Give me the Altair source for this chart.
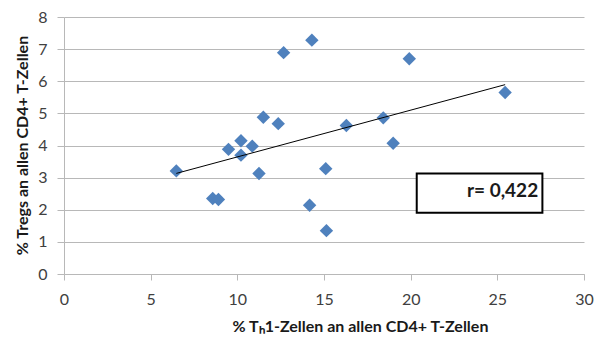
import altair as alt
import pandas as pd

# Th1 share vs. Treg share, both in % of all CD4+ T cells
th1_pct = [6.48, 8.58, 8.91, 9.49, 10.21, 10.21, 10.86, 11.25, 11.50, 12.36,
           12.67, 14.17, 14.30, 15.10, 15.14, 16.29, 18.42, 18.99, 19.92, 25.45]
treg_pct = [3.21, 2.35, 2.32, 3.88, 4.15, 3.70, 3.98, 3.13, 4.88, 4.68,
            6.89, 2.14, 7.28, 3.28, 1.35, 4.62, 4.86, 4.07, 6.70, 5.65]

x_ticks = [0, 5, 10, 15, 20, 25, 30]
y_ticks = [0, 1, 2, 3, 4, 5, 6, 7, 8]

r_label = "r= 0,422"
# annotation box extent in data units
box = {"x": [20.35], "x2": [27.6], "y": [3.13], "y2": [1.91]}

df = pd.DataFrame({"th1": th1_pct, "treg": treg_pct})
box_df = pd.DataFrame(box)
label_df = pd.DataFrame({"x": [25.3], "y": [2.57], "t": [r_label]})

FONT = "Lato"
GRID = "#b8b8b8"

x_scale = alt.Scale(domain=[0, 30], nice=False, zero=False)
y_scale = alt.Scale(domain=[0, 8], nice=False, zero=False)

x_axis = alt.Axis(
    values=x_ticks, tickCount=len(x_ticks), grid=False, domainColor=GRID,
    tickColor=GRID, tickSize=6,
    labelFont=FONT, labelFontSize=16, labelColor="#404040", labelPadding=11,
    labelFlush=False, labelOverlap=False,
    title="% Tₕ1-Zellen an allen CD4+ T-Zellen", titleFont=FONT, titleFontSize=16,
    titleFontWeight="bold", titleColor="#1a1a1a", titleX=296, titleY=52,
    titleBaseline="middle", titleAlign="center",
)
y_axis = alt.Axis(
    values=y_ticks, tickCount=len(y_ticks), grid=True, gridColor=GRID,
    domainColor=GRID, tickColor=GRID, tickSize=7, labelFont=FONT,
    labelFontSize=16, labelColor="#404040", labelPadding=10, labelFlush=False,
    labelOverlap=False,
    title="% Tregs an allen CD4+ T-Zellen", titleFont=FONT,
    titleFontSize=16, titleFontWeight="bold", titleColor="#1a1a1a",
    titleX=-42, titleY=128, titleBaseline="middle", titleAlign="center", titleAngle=270,
)

points = alt.Chart(df).mark_point(
    shape="diamond", filled=True, size=180, color="#4f81bd", opacity=1
).encode(
    x=alt.X("th1:Q", scale=x_scale, axis=x_axis),
    y=alt.Y("treg:Q", scale=y_scale, axis=y_axis),
)

trend = alt.Chart(df).transform_regression("th1", "treg").mark_line(
    color="#000000", strokeWidth=1
).encode(x="th1:Q", y="treg:Q")

frame = alt.Chart(box_df).mark_rect(
    fill="white", stroke="black", strokeWidth=2
).encode(x="x:Q", x2="x2:Q", y="y:Q", y2="y2:Q")

label = alt.Chart(label_df).mark_text(
    font=FONT, fontSize=19, fontWeight="bold", color="#1a1a1a", align="center"
).encode(x="x:Q", y="y:Q", text="t:N")

chart = (points + trend + frame + label).properties(
    width=520, height=257,
    padding={"left": 64, "top": 17, "right": 18, "bottom": 64},
    autosize=alt.AutoSizeParams(type="none"),
).configure_view(stroke=None)

chart.save("out.html", embed_options={"renderer": "svg", "actions": False})
